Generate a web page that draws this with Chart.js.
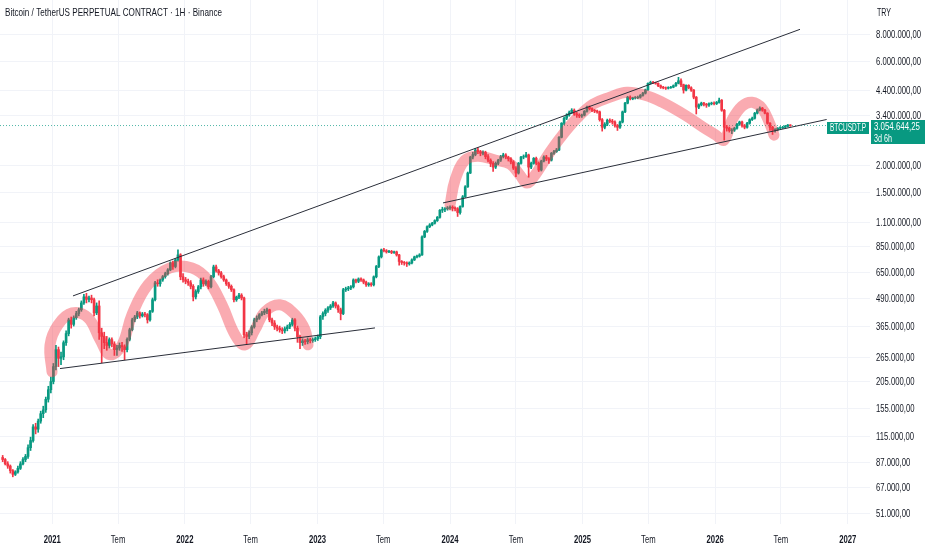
<!DOCTYPE html>
<html>
<head>
<meta charset="utf-8">
<script src="https://cdn.jsdelivr.net/npm/chart.js@4.4.1/dist/chart.umd.min.js"></script>
<style>
  html, body { margin: 0; padding: 0; background: #fff; }
</style>
</head>
<body>
<canvas id="btcChart" width="932" height="550"></canvas>
<script>
// weekly candles, prices in thousand TRY
const firstWeek = "2020-08-17";
const firstOpen = 92;
const closes = [
  90, 86, 84, 80, 77, 79, 82, 86, 90, 93,
  102, 110, 127, 124, 135, 146, 152, 170, 188, 205,
  240, 287, 262, 266, 309, 340, 393, 375, 402, 420,
  437, 470, 501, 488, 495, 486, 423, 455, 343, 330,
  309, 300, 319, 305, 287, 292, 300, 296, 287, 320,
  354, 393, 405, 423, 410, 418, 415, 393, 430, 486,
  581, 575, 599, 620, 640, 666, 717, 690, 740, 780,
  619, 600, 590, 581, 560, 501, 530, 557, 599, 575,
  590, 557, 620, 687, 660, 645, 620, 599, 575, 560,
  540, 486, 500, 510, 495, 336, 330, 343, 365, 393,
  400, 415, 423, 430, 437, 393, 380, 365, 360, 354,
  350, 358, 365, 375, 393, 360, 329, 309, 315, 312,
  319, 316, 319, 322, 329, 406, 420, 435, 446, 455,
  470, 455, 437, 420, 540, 545, 550, 557, 599, 590,
  605, 599, 585, 569, 575, 569, 619, 690, 764, 822,
  815, 805, 810, 800, 805, 780, 728, 720, 717, 710,
  717, 740, 764, 770, 780, 943, 1000, 1050, 1070, 1090,
  1120, 1160, 1250, 1260, 1270, 1280, 1290, 1280, 1270, 1220,
  1300, 1440, 1600, 1850, 2190, 2250, 2360, 2320, 2280, 2300,
  2200, 2120, 2050, 1970, 2050, 2120, 2200, 2240, 2190, 2150,
  2080, 1950, 1850, 2050, 2190, 2200, 2240, 1970, 2050, 2160,
  2050, 1910, 2100, 2190, 2150, 2120, 2280, 2320, 2360, 2700,
  3130, 3300, 3410, 3500, 3590, 3450, 3410, 3380, 3410, 3550,
  3710, 3650, 3590, 3560, 3530, 3250, 3000, 3100, 3230, 3200,
  3170, 3050, 3000, 3170, 3530, 3870, 4120, 4050, 4090, 4100,
  4120, 4200, 4300, 4450, 4770, 4820, 4800, 4770, 4650, 4580,
  4550, 4530, 4560, 4580, 4650, 4770, 4900, 4700, 4440, 4670,
  4550, 4440, 4120, 3710, 3800, 3870, 3820, 3790, 3850, 3870,
  3850, 3900, 3990, 3590, 3000, 2970, 2900, 2910, 2970, 3100,
  3170, 3050, 3000, 3130, 3250, 3300, 3480, 3600, 3670, 3590,
  3480, 3130, 3000, 2910, 2930, 2970, 2990, 3000, 3030, 3070, 3054.64
];
const highs = [
  94, 91, 88, 85, 81, 80, 84, 88, 92, 95,
  105, 114, 130, 132, 138, 150, 158, 174, 195, 215,
  248, 300, 295, 280, 315, 350, 400, 405, 410, 430,
  445, 480, 515, 520, 505, 510, 495, 470, 480, 360,
  345, 330, 325, 325, 312, 300, 308, 310, 302, 325,
  360, 400, 412, 430, 428, 425, 425, 420, 435, 495,
  590, 600, 605, 628, 650, 675, 725, 730, 750, 822,
  790, 640, 615, 605, 595, 570, 540, 565, 610, 612,
  600, 598, 628, 700, 700, 670, 655, 630, 605, 585,
  568, 545, 505, 520, 518, 500, 345, 350, 370, 400,
  410, 420, 430, 440, 445, 440, 400, 390, 372, 368,
  362, 365, 372, 382, 400, 398, 368, 335, 322, 320,
  325, 324, 325, 328, 335, 412, 428, 442, 452, 462,
  478, 475, 460, 445, 548, 555, 560, 565, 606, 604,
  612, 612, 605, 592, 582, 582, 625, 698, 772, 830,
  835, 825, 818, 818, 812, 812, 785, 735, 728, 725,
  725, 748, 770, 778, 790, 955, 1010, 1060, 1085, 1100,
  1130, 1170, 1260, 1290, 1285, 1300, 1310, 1310, 1295, 1285,
  1310, 1460, 1620, 1870, 2210, 2300, 2400, 2420, 2350, 2340,
  2330, 2250, 2150, 2090, 2080, 2140, 2230, 2280, 2270, 2210,
  2180, 2110, 1980, 2070, 2210, 2240, 2300, 2260, 2080, 2180,
  2190, 2080, 2120, 2220, 2230, 2180, 2300, 2350, 2400, 2720,
  3150, 3350, 3460, 3560, 3650, 3640, 3520, 3460, 3450, 3580,
  3750, 3760, 3680, 3620, 3600, 3560, 3290, 3150, 3270, 3280,
  3260, 3210, 3090, 3200, 3560, 3900, 4160, 4180, 4120, 4150,
  4170, 4240, 4340, 4490, 4800, 4880, 4870, 4830, 4800, 4690,
  4620, 4590, 4600, 4620, 4690, 4820, 5080, 5000, 4730, 4700,
  4700, 4600, 4470, 4150, 3840, 3910, 3900, 3860, 3880, 3910,
  3920, 3940, 4080, 4020, 3620, 3060, 3010, 2960, 3000, 3130,
  3200, 3200, 3090, 3160, 3280, 3340, 3510, 3640, 3720, 3700,
  3620, 3500, 3150, 3030, 2960, 2990, 3020, 3030, 3060, 3090, 3085
];
const lows = [
  88, 85, 82, 78, 75, 76, 78, 81, 85, 88,
  91, 99, 108, 118, 120, 132, 140, 148, 165, 182,
  200, 232, 240, 245, 258, 300, 332, 360, 368, 395,
  410, 430, 462, 470, 475, 470, 410, 415, 320, 250,
  290, 285, 292, 295, 270, 270, 285, 282, 258, 280,
  315, 350, 385, 398, 400, 405, 405, 380, 388, 425,
  480, 560, 560, 590, 610, 630, 660, 670, 680, 730,
  600, 585, 575, 565, 545, 480, 490, 520, 545, 560,
  565, 545, 550, 612, 650, 630, 610, 590, 565, 548,
  530, 475, 478, 492, 485, 325, 305, 322, 335, 360,
  385, 395, 410, 415, 420, 385, 370, 355, 350, 345,
  340, 342, 350, 358, 368, 350, 310, 290, 300, 303,
  305, 308, 310, 313, 316, 322, 395, 410, 425, 438,
  448, 445, 425, 393, 415, 530, 535, 540, 550, 580,
  582, 590, 575, 560, 560, 560, 562, 612, 682, 755,
  805, 795, 798, 790, 792, 770, 700, 705, 700, 690,
  700, 710, 735, 755, 762, 775, 935, 990, 1040, 1060,
  1080, 1110, 1150, 1220, 1230, 1250, 1260, 1240, 1240, 1170,
  1200, 1290, 1430, 1590, 1840, 2150, 2220, 2270, 2220, 2240,
  2150, 2080, 1980, 1880, 1940, 2020, 2090, 2170, 2150, 2100,
  2040, 1920, 1780, 1830, 2030, 2150, 2180, 1770, 1940, 2030,
  2020, 1880, 1890, 2080, 2110, 2050, 2100, 2250, 2300, 2340,
  2680, 3080, 3250, 3370, 3460, 3400, 3330, 3320, 3330, 3380,
  3520, 3600, 3540, 3500, 3480, 3200, 2880, 2950, 3050, 3150,
  3100, 3000, 2900, 2960, 3140, 3500, 3840, 4000, 4010, 4040,
  4050, 4080, 4160, 4260, 4420, 4730, 4750, 4720, 4600, 4520,
  4500, 4470, 4490, 4520, 4550, 4620, 4740, 4600, 4300, 4400,
  4500, 4380, 4050, 3450, 3650, 3760, 3760, 3700, 3740, 3800,
  3800, 3810, 3870, 3550, 2620, 2880, 2850, 2800, 2870, 2940,
  3060, 3000, 2950, 2970, 3100, 3220, 3270, 3450, 3560, 3550,
  3450, 3100, 2900, 2780, 2850, 2890, 2940, 2960, 2985, 3010, 3030
];

const lastPrice = 3054644.25;
const lastLabel = "3.054.644,25";
const countdown = "3d 6h";
const symbol = "BTCUSDT.P";
const title = "Bitcoin / TetherUS PERPETUAL CONTRACT · 1H · Binance";
const currency = "TRY";

// drawn lines: [decimal year, thousand TRY]
const upperLine = [[2021.156, 506], [2026.640, 8430]];
const lowerLine1 = [[2021.058, 235], [2023.434, 361]];
const lowerLine2 = [[2023.947, 1350], [2026.841, 3256]];
const wave1 = [
  [2020.998, 227], [2020.983, 302], [2021.043, 373], [2021.149, 423], [2021.269, 402],
  [2021.36, 319], [2021.435, 272], [2021.526, 302], [2021.601, 415], [2021.722, 569],
  [2021.888, 680], [2022.054, 680], [2022.174, 599], [2022.28, 461], [2022.378, 336],
  [2022.453, 302], [2022.529, 354], [2022.604, 428], [2022.718, 461], [2022.831, 415],
  [2022.906, 354], [2022.929, 302]
];
const wave2 = [
  [2024.0, 1321], [2024.038, 1719], [2024.113, 2121], [2024.211, 2212], [2024.34, 2121],
  [2024.453, 2034], [2024.528, 1811], [2024.581, 1665], [2024.641, 1811], [2024.739, 2236],
  [2024.83, 2675], [2024.958, 3301], [2025.079, 3826], [2025.207, 4120], [2025.335, 4342],
  [2025.471, 4207], [2025.599, 3908], [2025.773, 3408], [2025.908, 3003], [2026.006, 2761],
  [2026.067, 2619], [2026.127, 3232], [2026.203, 3747], [2026.278, 3908], [2026.353, 3669],
  [2026.414, 3099], [2026.444, 2761]
];

const xTickDates = ["2021-01-01", "2021-07-01", "2022-01-01", "2022-07-01", "2023-01-01", "2023-07-01",
  "2024-01-01", "2024-07-01", "2025-01-01", "2025-07-01", "2026-01-01", "2026-07-01", "2027-01-01"];
const xTickLabels = ["2021", "Tem", "2022", "Tem", "2023", "Tem", "2024", "Tem", "2025", "Tem", "2026", "Tem", "2027"];
const yTicks = [8000000, 6000000, 4400000, 3400000, 2000000, 1500000, 1100000, 850000, 650000,
  490000, 365000, 265000, 205000, 155000, 115000, 87000, 67000, 51000];

const unit = 1000;
const up = "#089981";
const down = "#f23645";
const textColor = "#131722";
const gridColor = "#f1f3f8";
const fam = '"Liberation Sans", Arial, sans-serif';
const squeeze = 0.7; // the reference uses a narrow face

function decYear(t) {
	const d = new Date(t);
	const y = d.getUTCFullYear();
	const s = Date.UTC(y, 0, 1);
	const e = Date.UTC(y + 1, 0, 1);
	return y + (d.getTime() - s) / (e - s);
}

function trNum(v) {
	const parts = v.toFixed(2).split(".");
	return parts[0].replace(/\B(?=(\d{3})+(?!\d))/g, ".") + "," + parts[1];
}

// narrow text: draw with a horizontal squeeze
function narrowText(ctx, text, x, y, align, sx) {
	ctx.save();
	ctx.translate(x, y);
	ctx.scale(sx, 1);
	ctx.textAlign = align;
	ctx.fillText(text, 0, 0);
	ctx.restore();
}

// squeeze text so it spans a given width
function fitText(ctx, text, x, y, w) {
	narrowText(ctx, text, x, y, "left", w / ctx.measureText(text).width);
}

const t0 = Date.parse(firstWeek + "T00:00:00Z");
const weekX = closes.map((c, i) => decYear(t0 + i * 7 * 864e5));
const opens = closes.map((c, i) => (i === 0 ? firstOpen : closes[i - 1]));
const candleColor = (i) => (closes[i] >= opens[i] ? up : down);

const xMin = 2020.6055;
const xMax = 2027.168;
const yMax = Math.pow(10, 7.0603);
const yMin = Math.pow(10, 7.0603 - 524 / 218.2);

const toPts = (arr) => arr.map((p) => ({ x: p[0], y: p[1] * unit }));

const labelsPlugin = {
	id: "tvLabels",
	afterDraw(chart) {
		const { ctx, chartArea, scales } = chart;
		const r = chartArea.right;
		ctx.save();
		ctx.textBaseline = "middle";
		ctx.fillStyle = textColor;

		// header
		ctx.font = "11px " + fam;
		fitText(ctx, title, 5, 13, 217);
		fitText(ctx, currency, r + 7, 13, 14);

		// price axis
		scales.y.ticks.forEach((t) => {
			narrowText(ctx, trNum(t.value), r + 6, scales.y.getPixelForValue(t.value) + 0.5, "left", squeeze);
		});

		// time axis
		scales.x.ticks.forEach((t, i) => {
			const lab = xTickLabels[i];
			ctx.font = (lab === "Tem" ? "" : "bold ") + "11px " + fam;
			narrowText(ctx, lab, scales.x.getPixelForValue(t.value), chartArea.bottom + 16, "center", squeeze);
		});

		// last price tag
		const y = Math.round(scales.y.getPixelForValue(lastPrice));
		ctx.fillStyle = up;
		ctx.fillRect(r - 43, y - 4, 42, 12);
		ctx.fillRect(r + 1, y - 6, 54, 24);
		ctx.fillStyle = "#ffffff";
		ctx.font = "11px " + fam;
		fitText(ctx, symbol, r - 40, y + 2, 36);
		fitText(ctx, lastLabel, r + 4, y + 1, 46);
		fitText(ctx, countdown, r + 4, y + 12.5, 18);
		ctx.restore();
	},
};

new Chart(document.getElementById("btcChart"), {
	type: "bar",
	data: {
		datasets: [
			{
				type: "line",
				data: toPts(upperLine),
				borderColor: "#2a2e39",
				borderWidth: 1,
				pointRadius: 0,
				order: 0,
			},
			{
				type: "line",
				data: toPts(lowerLine1),
				borderColor: "#2a2e39",
				borderWidth: 1,
				pointRadius: 0,
				order: 0,
			},
			{
				type: "line",
				data: toPts(lowerLine2),
				borderColor: "#2a2e39",
				borderWidth: 1,
				pointRadius: 0,
				order: 0,
			},
			{
				type: "line",
				data: toPts(wave1),
				borderColor: "rgba(242, 54, 69, 0.42)",
				borderWidth: 11,
				borderCapStyle: "round",
				borderJoinStyle: "round",
				tension: 0.4,
				pointRadius: 0,
				order: 1,
			},
			{
				type: "line",
				data: toPts(wave2),
				borderColor: "rgba(242, 54, 69, 0.42)",
				borderWidth: 11,
				borderCapStyle: "round",
				borderJoinStyle: "round",
				tension: 0.4,
				pointRadius: 0,
				order: 1,
			},
			{
				type: "line",
				data: [
					{ x: xMin, y: lastPrice },
					{ x: xMax, y: lastPrice },
				],
				borderColor: "rgba(8, 153, 129, 0.7)",
				borderWidth: 1,
				borderDash: [1, 2],
				pointRadius: 0,
				order: 4,
			},
			{
				data: closes.map((c, i) => ({ x: weekX[i], y: [opens[i] * unit, c * unit] })),
				backgroundColor: (c) => candleColor(c.dataIndex),
				barThickness: 2,
				grouped: false,
				order: 2,
			},
			{
				data: closes.map((c, i) => ({ x: weekX[i], y: [lows[i] * unit, highs[i] * unit] })),
				backgroundColor: (c) => candleColor(c.dataIndex),
				barThickness: 1,
				grouped: false,
				order: 3,
			},
		],
	},
	options: {
		responsive: false,
		animation: false,
		events: [],
		layout: { padding: 0 },
		plugins: {
			legend: { display: false },
			tooltip: { enabled: false },
		},
		scales: {
			x: {
				type: "linear",
				min: xMin,
				max: xMax,
				bounds: "data",
				offset: false,
				grid: { color: gridColor, drawTicks: false, offset: false },
				border: { display: false },
				afterBuildTicks: (s) => {
					s.ticks = xTickDates.map((d) => ({ value: decYear(Date.parse(d + "T00:00:00Z")) }));
				},
				afterFit: (s) => {
					s.height = 26;
					s.paddingLeft = 0;
					s.paddingRight = 0;
				},
				ticks: { display: false, autoSkip: false },
			},
			y: {
				type: "logarithmic",
				position: "right",
				min: yMin,
				max: yMax,
				bounds: "data",
				grid: { color: gridColor, drawTicks: false },
				border: { display: false },
				afterBuildTicks: (s) => {
					s.ticks = yTicks.map((v) => ({ value: v }));
				},
				afterFit: (s) => {
					s.width = 62;
					s.paddingTop = 0;
					s.paddingBottom = 0;
				},
				ticks: { display: false, autoSkip: false },
			},
		},
	},
	plugins: [labelsPlugin],
});
</script>
</body>
</html>
